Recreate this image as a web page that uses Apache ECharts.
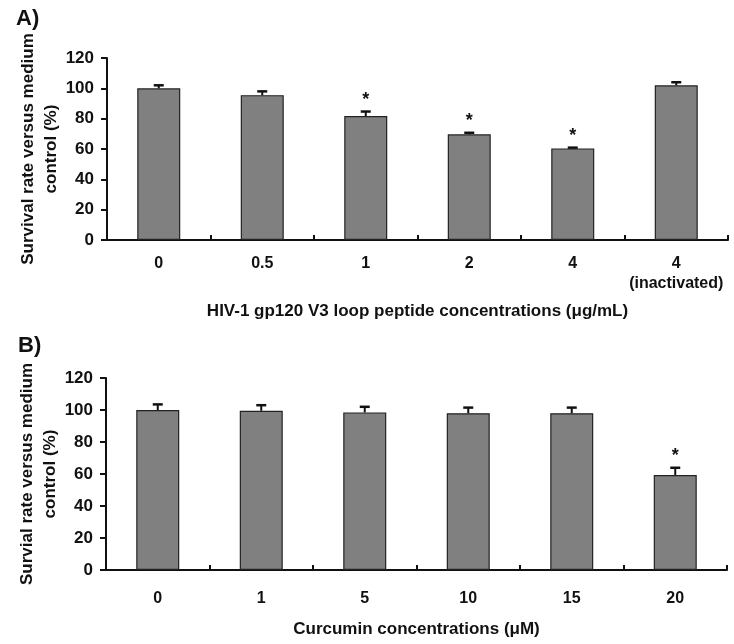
<!DOCTYPE html>
<html><head><meta charset="utf-8">
<script src="https://cdn.jsdelivr.net/npm/echarts@6/dist/echarts.min.js"></script>
<style>html,body{margin:0;padding:0;background:#fff}#c{width:734px;height:644px}</style>
</head><body><div id="c"></div>
<script>
const catsA = ['0', '0.5', '1', '2', '4', '4\n(inactivated)'];
const valsA = [100, 95.5, 81.7, 69.7, 60.4, 102];
const errA = [2, 2.5, 3, 1, 0.5, 2];
const sigA = [0, 0, 1, 1, 1, 0];

const catsB = ['0', '1', '5', '10', '15', '20'];
const valsB = [100, 99.5, 98.5, 98, 98, 59.4];
const errB = [3.5, 3.5, 3.5, 3.5, 3.5, 4.5];
const sigB = [0, 0, 0, 0, 0, 1];

const yTicks = [0, 20, 40, 60, 80, 100, 120];

const FONT = '"Liberation Sans", Arial, sans-serif';
const chart = echarts.init(document.getElementById('c'));

function errSeries(idx, vals, errs, sigs) {
  return {
    type: 'custom', xAxisIndex: idx, yAxisIndex: idx, z: 5,
    data: vals.map((v, i) => [i, v, errs[i], sigs[i]]),
    renderItem: function (params, api) {
      const x = api.value(0), v = api.value(1), e = api.value(2), s = api.value(3);
      const p0 = api.coord([x, v]);
      const p1 = api.coord([x, v + e]);
      const children = [
        { type: 'line', shape: { x1: p0[0], y1: p0[1], x2: p1[0], y2: p1[1] }, style: { stroke: '#111', lineWidth: 2 } },
        { type: 'line', shape: { x1: p1[0] - 5, y1: p1[1], x2: p1[0] + 5, y2: p1[1] }, style: { stroke: '#111', lineWidth: 2.5 } }
      ];
      if (s) {
        children.push({ type: 'text', style: { text: '*', x: p1[0], y: p1[1] - 12, align: 'center', verticalAlign: 'middle', font: 'bold 18px ' + FONT, fill: '#111' } });
      }
      return { type: 'group', children: children };
    }
  };
}

function yAx(idx, nm) {
  return {
    type: 'value', gridIndex: idx, min: 0, max: 120, interval: 20,
    name: nm, nameLocation: 'middle', nameRotate: 90, nameGap: 44, nameMoveOverlap: false,
    nameTextStyle: { fontFamily: FONT, fontWeight: 'bold', fontSize: 17, color: '#111', lineHeight: 23 },
    axisLine: { show: true, lineStyle: { color: '#111', width: 2 } },
    axisTick: { show: true, inside: false, length: 6, lineStyle: { color: '#111', width: 2 } },
    axisLabel: { fontFamily: FONT, fontWeight: 'bold', fontSize: 17, color: '#111', margin: 13,
      formatter: v => yTicks.indexOf(v) >= 0 ? String(v) : '' },
    splitLine: { show: false }
  };
}

function xAx(idx, cats, nm, margin, gap) {
  return {
    type: 'category', gridIndex: idx, data: cats, boundaryGap: true,
    name: nm, nameLocation: 'middle', nameGap: gap,
    nameTextStyle: { fontFamily: FONT, fontWeight: 'bold', fontSize: 17, color: '#111' },
    axisLine: { show: true, lineStyle: { color: '#111', width: 2 } },
    axisTick: { show: true, inside: true, length: 5, interval: 0, lineStyle: { color: '#111', width: 2 } },
    axisLabel: { interval: 0, fontFamily: FONT, fontWeight: 'bold', fontSize: 16, color: '#111', margin: margin, lineHeight: 20 },
    splitLine: { show: false }
  };
}

chart.setOption({
  animation: false,
  backgroundColor: '#fff',
  title: [
    { text: 'A)', left: 11, top: 3, textStyle: { fontFamily: FONT, fontWeight: 'bold', fontSize: 22, color: '#111' } },
    { text: 'B)', left: 13, top: 330, textStyle: { fontFamily: FONT, fontWeight: 'bold', fontSize: 22, color: '#111' } }
  ],
  grid: [
    { left: 107, right: 6, top: 58, height: 182 },
    { left: 106, right: 7, top: 378, height: 192 }
  ],
  xAxis: [
    xAx(0, catsA, 'HIV-1 gp120 V3 loop peptide concentrations (μg/mL)', 14, 63),
    xAx(1, catsB, 'Curcumin concentrations (μM)', 19, 51)
  ],
  yAxis: [
    yAx(0, 'Survival rate versus medium\ncontrol (%)'),
    yAx(1, 'Survial rate versus medium\ncontrol (%)')
  ],
  series: [
    { type: 'bar', xAxisIndex: 0, yAxisIndex: 0, data: valsA, barWidth: 43,
      itemStyle: { color: '#808080', borderColor: '#222', borderWidth: 1.2 } },
    { type: 'bar', xAxisIndex: 1, yAxisIndex: 1, data: valsB, barWidth: 43,
      itemStyle: { color: '#808080', borderColor: '#222', borderWidth: 1.2 } },
    errSeries(0, valsA, errA, sigA),
    errSeries(1, valsB, errB, sigB)
  ]
});
</script></body></html>
